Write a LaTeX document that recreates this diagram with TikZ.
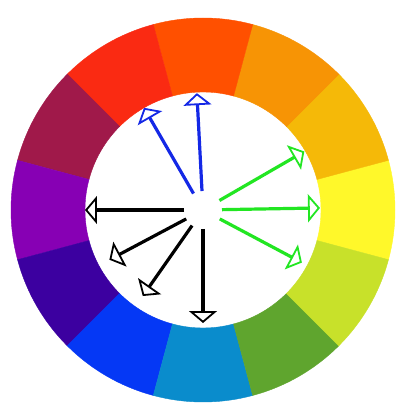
\documentclass[tikz,border=0pt]{standalone}
\usepackage{xcolor}
\usepackage{tikz}
\usetikzlibrary{arrows.meta,calc}

\definecolor{wYellow}{HTML}{FFF82A}
\definecolor{wAmber}{HTML}{F5B908}
\definecolor{wOrange}{HTML}{F79405}
\definecolor{wRedOrange}{HTML}{FF5000}
\definecolor{wRed}{HTML}{FA2A12}
\definecolor{wCrimson}{HTML}{A0194A}
\definecolor{wViolet}{HTML}{8700B4}
\definecolor{wIndigo}{HTML}{3C00A0}
\definecolor{wBlue}{HTML}{0538F5}
\definecolor{wCyan}{HTML}{0A8CCC}
\definecolor{wGreen}{HTML}{5FA52E}
\definecolor{wLime}{HTML}{C8E12A}
\definecolor{pBlue}{HTML}{1428E6}
\definecolor{pGreen}{HTML}{22E622}

\tikzset{
	pointer/.style = {line width=3.2pt, -{Triangle[open, length=12pt, width=28pt, line width=1.8pt]}}
}

\begin{document}
\begin{tikzpicture}[x=1pt, y=1pt]
	\useasboundingbox (-203,-207) rectangle (205,210);
	\fill [white] (-203,-207) rectangle (205,210);

	\foreach \c [count=\i from 0] in {wYellow, wAmber, wOrange, wRedOrange, wRed, wCrimson,
	                                  wViolet, wIndigo, wBlue, wCyan, wGreen, wLime} {
		\pgfmathsetmacro{\lo}{30*\i-15}
		\pgfmathsetmacro{\hi}{30*\i+15}
		\fill [\c, draw=\c, line width=0.4pt] (\lo:192) arc [start angle=\lo, end angle=\hi, radius=192]
			-- (\hi:118) arc [start angle=\hi, end angle=\lo, radius=118] -- cycle;
	}

	\coordinate (hub) at (0,0);
	\foreach \a/\r/\c [count=\i] in {120/118/pBlue, 93/117/pBlue,
	                                 30/117/pGreen, 1/117/pGreen, -28/112/pGreen,
	                                 180/118/black, 208/106/black, 235/105/black, 270/113/black} {
		\coordinate (s\i) at ($(hub)+(\a:19)$);
		\coordinate (t\i) at ($(hub)+(\a:\r)$);
		\draw [pointer, \c] (s\i) -- (t\i);
	}
\end{tikzpicture}
\end{document}
